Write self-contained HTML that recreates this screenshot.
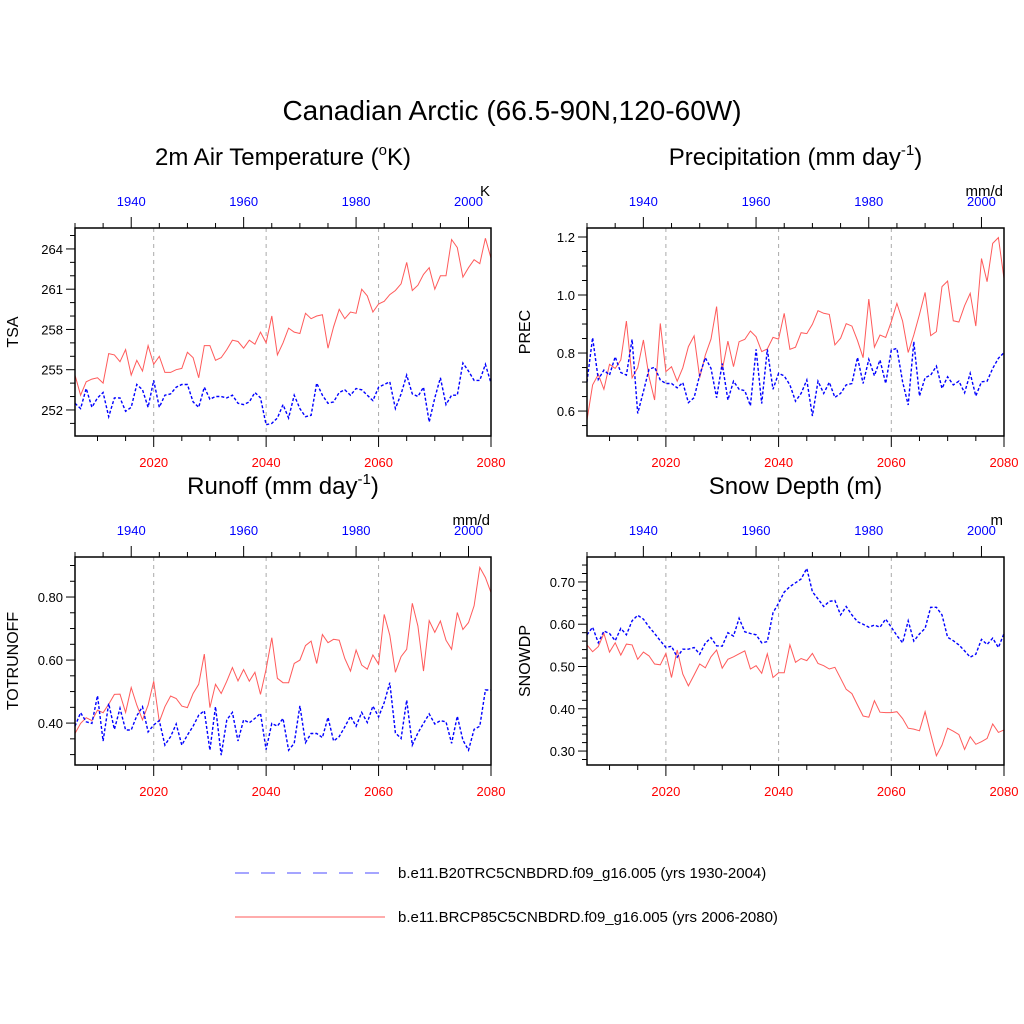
<!DOCTYPE html>
<html><head><meta charset="utf-8"><style>
html,body{margin:0;padding:0;background:#fff;}
svg{display:block;font-family:"Liberation Sans",sans-serif;}
</style></head><body>
<svg id="fig" width="1024" height="1024" viewBox="0 0 1024 1024" xmlns="http://www.w3.org/2000/svg">
<rect width="1024" height="1024" fill="#fff"/>
<text x="512" y="120" font-size="28" text-anchor="middle">Canadian Arctic (66.5-90N,120-60W)</text>
<g>
<line x1="235" y1="873" x2="385" y2="873" stroke="#0000ff" stroke-width="1" stroke-dasharray="14,12" opacity="0.7"/>
<text x="398" y="878" font-size="15">b.e11.B20TRC5CNBDRD.f09_g16.005 (yrs 1930-2004)</text>
<line x1="235" y1="917" x2="385" y2="917" stroke="#ff5a5a" stroke-width="1"/>
<text x="398" y="922" font-size="15">b.e11.BRCP85C5CNBDRD.f09_g16.005 (yrs 2006-2080)</text>
</g>
</svg>
<script>
const futureYears = []; for (let y = 2006; y <= 2080; y++) futureYears.push(y);
const histYears = []; for (let y = 1930; y <= 2004; y++) histYears.push(y);
const bottomTickLabels = [2020, 2040, 2060, 2080];
const topTickLabels = [1940, 1960, 1980, 2000];

const tsaFuture = [254.6,253.1,254.1,254.3,254.4,254.0,256.2,256.1,255.6,256.5,254.6,255.7,254.9,256.8,255.4,256.0,254.8,254.8,255.0,255.1,256.3,255.9,254.4,256.8,256.8,255.7,255.9,256.5,257.2,257.1,256.6,257.2,256.9,257.8,257.0,259.0,256.1,257.0,258.1,257.8,257.7,259.2,258.8,259.0,259.1,256.6,258.2,259.5,258.8,259.3,259.2,261.0,260.5,259.3,259.9,260.1,260.6,260.9,261.4,263.0,260.9,261.3,262.1,262.6,261.0,262.0,262.0,264.7,264.1,261.9,262.6,263.2,262.9,264.8,263.3];
const tsaHist = [252.5,252.1,253.6,252.2,252.9,253.3,251.5,252.9,252.9,251.9,252.2,253.9,253.5,252.2,254.2,252.2,253.1,253.2,253.7,253.9,253.9,252.6,252.2,253.7,252.8,253.0,253.0,252.9,253.1,252.5,252.4,252.6,253.3,252.9,250.9,251.0,251.4,252.4,251.4,253.1,252.1,251.5,251.6,254.0,253.1,252.5,252.6,253.3,253.5,253.1,253.6,253.5,253.1,252.7,253.7,253.9,254.1,252.1,253.2,254.6,253.2,253.0,253.7,251.1,252.9,254.4,252.4,253.1,253.1,255.5,254.9,254.2,254.2,255.4,254.0];
const tsaTicks = [252, 255, 258, 261, 264];

const precFuture = [0.569,0.690,0.726,0.675,0.761,0.747,0.776,0.910,0.715,0.749,0.845,0.718,0.638,0.902,0.736,0.753,0.703,0.749,0.822,0.859,0.715,0.793,0.848,0.960,0.741,0.841,0.753,0.839,0.847,0.876,0.856,0.805,0.814,0.854,0.848,0.937,0.813,0.820,0.870,0.867,0.899,0.946,0.937,0.933,0.828,0.851,0.901,0.893,0.843,0.784,0.986,0.820,0.862,0.854,0.908,0.971,0.910,0.802,0.862,0.933,1.009,0.860,0.874,1.029,1.048,0.911,0.907,0.963,1.006,0.893,1.126,1.046,1.178,1.198,1.057];
const precHist = [0.701,0.853,0.709,0.741,0.724,0.787,0.733,0.724,0.847,0.592,0.667,0.744,0.751,0.707,0.695,0.695,0.680,0.698,0.629,0.646,0.724,0.784,0.747,0.646,0.764,0.638,0.703,0.675,0.670,0.618,0.813,0.626,0.813,0.675,0.730,0.721,0.690,0.634,0.661,0.707,0.583,0.703,0.661,0.699,0.647,0.661,0.690,0.695,0.785,0.695,0.778,0.722,0.776,0.695,0.810,0.816,0.701,0.621,0.839,0.652,0.715,0.724,0.755,0.678,0.718,0.690,0.703,0.663,0.730,0.652,0.701,0.703,0.747,0.782,0.801];
const precTicks = [0.6, 0.8, 1.0, 1.2];

const runoffFuture = [0.367,0.399,0.417,0.408,0.441,0.433,0.460,0.491,0.492,0.434,0.513,0.457,0.410,0.457,0.533,0.404,0.452,0.486,0.478,0.454,0.449,0.494,0.523,0.619,0.449,0.523,0.494,0.533,0.576,0.534,0.570,0.533,0.561,0.491,0.571,0.671,0.542,0.528,0.528,0.589,0.600,0.646,0.660,0.589,0.681,0.655,0.666,0.663,0.605,0.565,0.632,0.584,0.571,0.616,0.587,0.745,0.679,0.561,0.611,0.634,0.780,0.708,0.565,0.725,0.688,0.724,0.663,0.634,0.751,0.697,0.719,0.772,0.894,0.862,0.814];
const runoffHist = [0.390,0.433,0.404,0.399,0.487,0.343,0.462,0.380,0.447,0.378,0.378,0.423,0.452,0.372,0.394,0.408,0.330,0.357,0.397,0.330,0.362,0.390,0.425,0.439,0.314,0.452,0.298,0.410,0.434,0.343,0.410,0.401,0.415,0.431,0.316,0.399,0.390,0.415,0.314,0.336,0.455,0.338,0.367,0.367,0.354,0.418,0.343,0.357,0.388,0.422,0.390,0.434,0.402,0.454,0.420,0.465,0.528,0.369,0.351,0.473,0.330,0.369,0.399,0.429,0.397,0.408,0.404,0.336,0.422,0.346,0.314,0.380,0.390,0.505,0.505];
const runoffTicks = [0.40, 0.60, 0.80];

const snowFuture = [0.551,0.535,0.547,0.578,0.534,0.556,0.527,0.553,0.551,0.517,0.534,0.525,0.506,0.504,0.531,0.474,0.539,0.482,0.454,0.480,0.506,0.497,0.523,0.539,0.496,0.517,0.523,0.530,0.537,0.494,0.502,0.484,0.530,0.474,0.485,0.485,0.551,0.510,0.519,0.514,0.531,0.507,0.502,0.494,0.498,0.472,0.446,0.436,0.409,0.383,0.380,0.419,0.392,0.391,0.391,0.393,0.377,0.354,0.352,0.348,0.393,0.340,0.289,0.314,0.354,0.347,0.339,0.304,0.334,0.316,0.322,0.330,0.364,0.344,0.350];
const snowHist = [0.575,0.593,0.556,0.584,0.578,0.561,0.590,0.575,0.608,0.621,0.612,0.594,0.578,0.561,0.545,0.548,0.522,0.541,0.541,0.545,0.529,0.555,0.568,0.549,0.548,0.580,0.572,0.614,0.582,0.578,0.575,0.556,0.559,0.627,0.650,0.676,0.689,0.698,0.707,0.732,0.677,0.660,0.642,0.654,0.656,0.622,0.642,0.622,0.606,0.600,0.593,0.598,0.593,0.612,0.593,0.573,0.556,0.608,0.560,0.577,0.590,0.640,0.640,0.622,0.569,0.561,0.551,0.537,0.522,0.529,0.564,0.552,0.567,0.545,0.578];
const snowTicks = [0.30, 0.40, 0.50, 0.60, 0.70];

const NS = "http://www.w3.org/2000/svg";
const svg = document.getElementById("fig");
function mk(tag, attrs, parent, txt) {
  const e = document.createElementNS(NS, tag);
  for (const k in attrs) e.setAttribute(k, attrs[k]);
  if (txt !== undefined) e.textContent = txt;
  parent.appendChild(e);
  return e;
}

const panels = [
  {key:"tsa", x0:75, x1:491, y0:228, y1:436, ymin:250.06, ymax:265.56, minor:1, ticks:tsaTicks, dec:0,
   fut:tsaFuture, hist:tsaHist, ytitle:"TSA", title:"2m Air Temperature (", sup:"o", titleEnd:"K)", unit:"K"},
  {key:"prec", x0:587, x1:1004, y0:228, y1:436, ymin:0.514, ymax:1.231, minor:0.05, ticks:precTicks, dec:1,
   fut:precFuture, hist:precHist, ytitle:"PREC", title:"Precipitation (mm day", sup:"-1", titleEnd:")", unit:"mm/d"},
  {key:"runoff", x0:75, x1:491, y0:557, y1:765, ymin:0.267, ymax:0.927, minor:0.05, ticks:runoffTicks, dec:2,
   fut:runoffFuture, hist:runoffHist, ytitle:"TOTRUNOFF", title:"Runoff (mm day", sup:"-1", titleEnd:")", unit:"mm/d"},
  {key:"snow", x0:587, x1:1004, y0:557, y1:765, ymin:0.267, ymax:0.759, minor:0.02, ticks:snowTicks, dec:2,
   fut:snowFuture, hist:snowHist, ytitle:"SNOWDP", title:"Snow Depth (m)", sup:"", titleEnd:"", unit:"m"}
];

panels.forEach(p => {
  const g = mk("g", {}, svg);
  
  
  const xs = yr => p.x0 + (yr - 2006) * (p.x1 - p.x0) / 74;
  const xh = yr => p.x0 + (yr - 1930) * (p.x1 - p.x0) / 74;
  const ys = v => p.y1 - (v - p.ymin) * (p.y1 - p.y0) / (p.ymax - p.ymin);
  const cx = (p.x0 + p.x1) / 2;

  const t = mk("text", {x:cx, y:p.y0 - 63, "font-size":24, "text-anchor":"middle"}, g);
  
  
  mk("tspan", {}, t, p.title);
  if (p.sup) { mk("tspan", {dy:-10, "font-size":15}, t, p.sup); mk("tspan", {dy:10}, t, p.titleEnd); }

  const u = mk("text", {x:p.x1 - 1, y:p.y0 - 32, "font-size":15, "text-anchor":"end"}, g, p.unit);
  
  

  [2020, 2040, 2060].forEach(yr => {
    const l = mk("line", {x1:xs(yr), x2:xs(yr), y1:p.y0, y2:p.y1, stroke:"#aaa", "stroke-width":1, "stroke-dasharray":"4,4"}, g);
    
    
  });

  for (let yr = 2010; yr <= 2080; yr += 5) {
    const major = yr % 20 === 0;
    mk("line", {x1:xs(yr), x2:xs(yr), y1:p.y1, y2:p.y1 + (major ? 11 : 5), stroke:"#000", "stroke-width":1}, g);
  }
  bottomTickLabels.forEach(yr => {
    const tl = mk("text", {x:xs(yr), y:p.y1 + 31, "font-size":13, fill:"#ff0000", "text-anchor":"middle"}, g, yr);
    
    
  });
  for (let yr = 1930; yr <= 2004; yr += 5) {
    const major = yr % 20 === 0;
    mk("line", {x1:xh(yr), x2:xh(yr), y1:p.y0, y2:p.y0 - (major ? 11 : 5), stroke:"#000", "stroke-width":1}, g);
  }
  topTickLabels.forEach(yr => {
    const tl = mk("text", {x:xh(yr), y:p.y0 - 22, "font-size":13, fill:"#0000ff", "text-anchor":"middle"}, g, yr);
    
    
  });

  const start = Math.ceil(p.ymin / p.minor - 1e-6);
  for (let k = start; k * p.minor <= p.ymax + 1e-9; k++) {
    const v = k * p.minor;
    const major = p.ticks.some(tv => Math.abs(tv - v) < p.minor / 10);
    mk("line", {x1:p.x0, x2:p.x0 - (major ? 9 : 5), y1:ys(v), y2:ys(v), stroke:"#000", "stroke-width":1}, g);
  }
  p.ticks.forEach(v => {
    const tl = mk("text", {x:p.x0 - 12, y:ys(v) + 5, "font-size":13, "text-anchor":"end"}, g, v.toFixed(p.dec));
    
    
  });
  const ya = mk("text", {x:0, y:0, "font-size":16, "text-anchor":"middle", transform:`translate(${p.x0 - 57},${(p.y0 + p.y1) / 2}) rotate(-90)`}, g, p.ytitle);
  
  

  const fp = p.fut.map((v, i) => `${xs(futureYears[i]).toFixed(1)},${ys(v).toFixed(1)}`).join(" ");
  const hp = p.hist.map((v, i) => `${xh(histYears[i]).toFixed(1)},${ys(v).toFixed(1)}`).join(" ");
  const lf = mk("polyline", {points:fp, fill:"none", stroke:"#ff5a5a", "stroke-width":1}, g);
  
  
  const lh = mk("polyline", {points:hp, fill:"none", stroke:"#0000ff", "stroke-width":1.4, "stroke-dasharray":"3,2"}, g);
  
  

  const box = mk("rect", {x:p.x0, y:p.y0, width:p.x1 - p.x0, height:p.y1 - p.y0, fill:"none", stroke:"#000", "stroke-width":1.5}, g);
  
  
});
</script>
</body></html>
